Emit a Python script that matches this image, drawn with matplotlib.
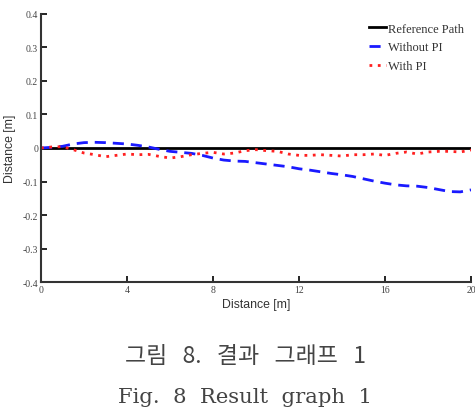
import matplotlib
matplotlib.use('Agg')
import matplotlib.pyplot as plt
import numpy as np

# Sampled every 0.5 m along the path
x_pos = np.arange(0, 20.5, 0.5)
reference = [0.0] * 41
without_pi = [0.0, 0.002, 0.005, 0.012, 0.016, 0.017, 0.016, 0.014, 0.012, 0.008,
              0.003, -0.004, -0.010, -0.013, -0.016, -0.022, -0.030, -0.036, -0.039, -0.040,
              -0.044, -0.048, -0.052, -0.056, -0.062, -0.066, -0.071, -0.076, -0.080, -0.085,
              -0.092, -0.099, -0.105, -0.110, -0.113, -0.114, -0.118, -0.124, -0.130, -0.131,
              -0.125]
with_pi = [0.0, 0.003, 0.004, -0.005, -0.015, -0.020, -0.026, -0.022, -0.018, -0.020,
           -0.019, -0.025, -0.030, -0.026, -0.020, -0.016, -0.013, -0.018, -0.015, -0.008,
           -0.005, -0.008, -0.010, -0.018, -0.022, -0.022, -0.020, -0.022, -0.024, -0.020,
           -0.020, -0.018, -0.022, -0.016, -0.012, -0.018, -0.012, -0.010, -0.010, -0.012,
           -0.006]
x_ticks = [0, 4, 8, 12, 16, 20]
y_ticks = [-0.4, -0.3, -0.2, -0.1, 0, 0.1, 0.2, 0.3, 0.4]
y_ticklabels = ['-0.4', '-0.3', '-0.2', '-0.1', '0', '0.1', '0.2', '0.3', '0.4']

fig = plt.figure(figsize=(4.75, 4.14), dpi=100)
ax = fig.add_axes([0.0863, 0.3164, 0.9053, 0.6474])

ax.plot(x_pos, reference, color='black', lw=2, label='Reference Path')
ax.plot(x_pos, without_pi, color='#1a1aff', lw=2, ls=(0, (4, 2.5)), label='Without PI')
ax.plot(x_pos, with_pi, color='#ff2020', lw=2, ls=(0, (1, 2)), label='With PI')

ax.set_xlim(0, 20)
ax.set_ylim(-0.4, 0.4)
ax.set_xticks(x_ticks)
ax.set_yticks(y_ticks)
ax.set_yticklabels(y_ticklabels)
for lab in ax.get_xticklabels() + ax.get_yticklabels():
    lab.set_fontfamily('Liberation Serif')
    lab.set_color('#444444')
ax.tick_params(direction='in', length=4, width=1.2, labelsize=7, pad=2)
ax.spines['top'].set_visible(False)
ax.spines['right'].set_visible(False)
for side in ['left', 'bottom']:
    ax.spines[side].set_linewidth(1.5)
    ax.spines[side].set_color('#333333')

ax.set_xlabel('Distance [m]', fontfamily='Liberation Sans', fontsize=8.8, labelpad=3, color='#333333')
ax.set_ylabel('Distance [m]', fontfamily='Liberation Sans', fontsize=8.8, labelpad=5, color='#333333')

leg = ax.legend(loc='upper right', frameon=False, handlelength=1.3, handletextpad=0.2,
                labelspacing=0.55, prop={'family': 'Liberation Serif', 'size': 9},
                bbox_to_anchor=(1.01, 1.01))
for t in leg.get_texts():
    t.set_color('#333333')

# figure caption below the plot
fig.text(0.516, 0.1377, '그림   8.   결과   그래프   1', ha='center', va='center',
         fontsize=16.5, color='#444444', family=['Noto Sans CJK KR', 'DejaVu Sans'])
fig.text(0.516, 0.041, 'Fig.  8  Result  graph  1', ha='center', va='center',
         fontsize=15.2, color='#444444', family='DejaVu Serif')

fig.savefig('out.png', dpi=100)
